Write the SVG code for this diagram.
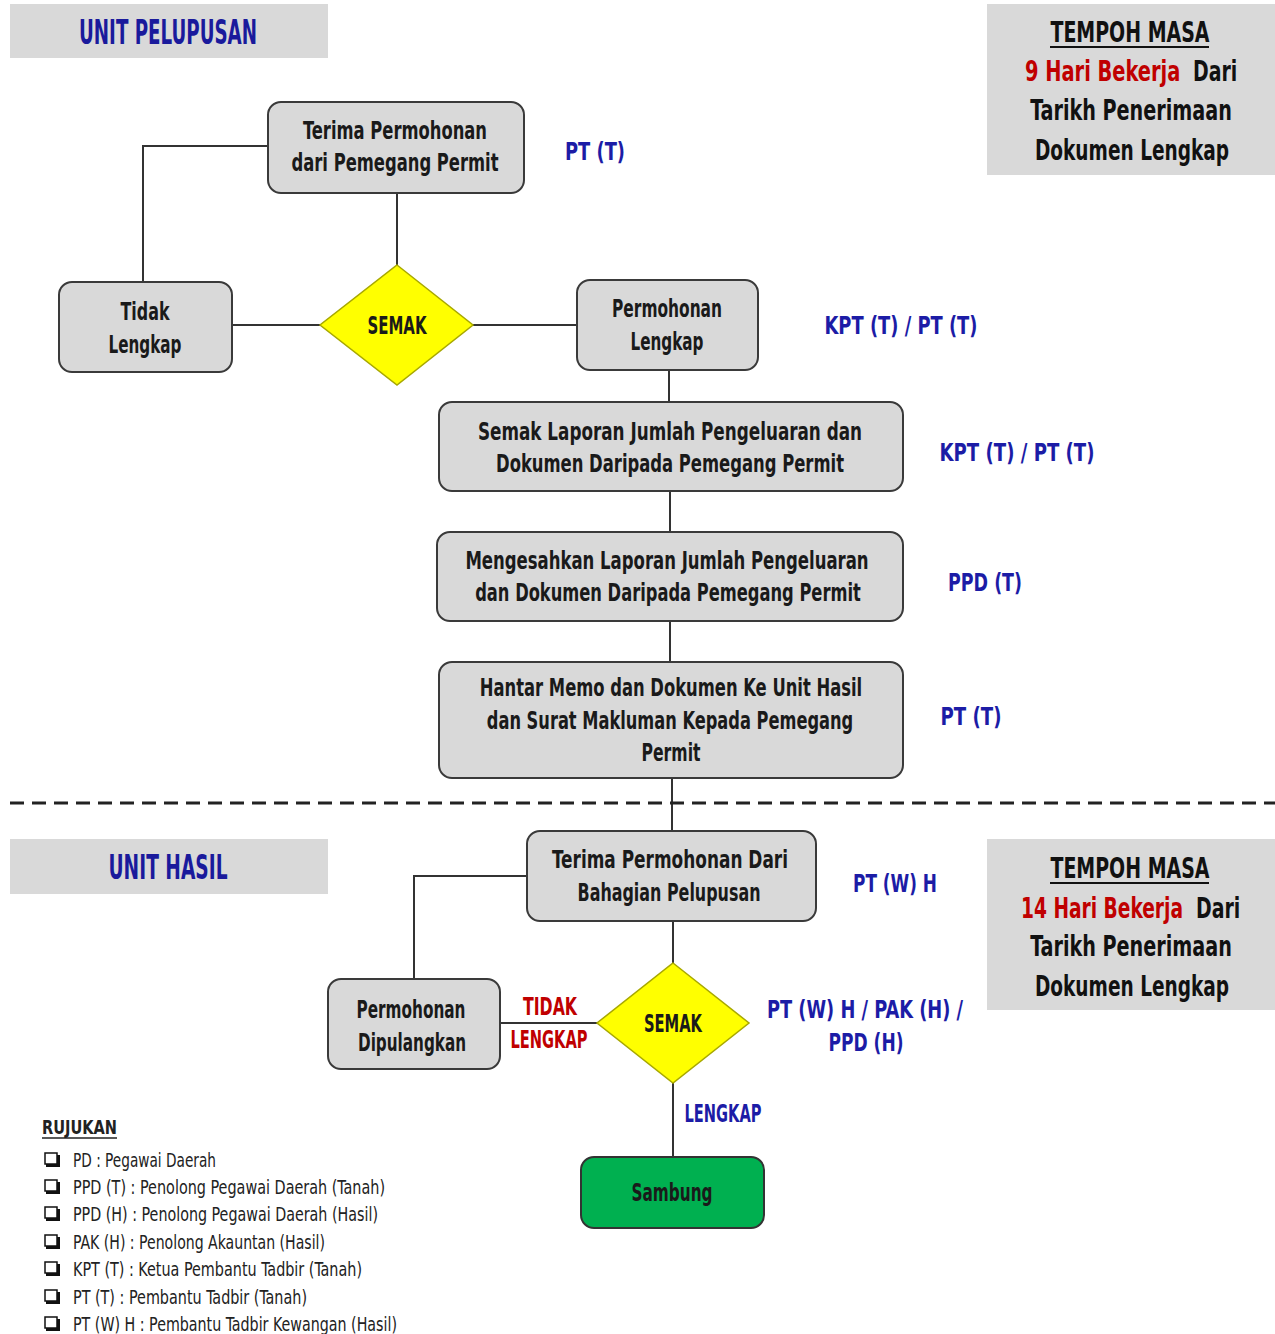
<svg xmlns="http://www.w3.org/2000/svg" width="1275" height="1334" viewBox="0 0 1275 1334">
<style>
  text { font-family: "Liberation Sans Narrow", "DejaVu Sans Condensed", "Liberation Sans", sans-serif; dominant-baseline: central; }
  .nt { font-size: 24px; font-weight: bold; fill: #1a1a1a; text-anchor: middle; }
  .bl { font-size: 24px; font-weight: bold; fill: #1c1ca6; text-anchor: middle; }
  .rd { font-size: 24px; font-weight: bold; fill: #c00000; text-anchor: middle; }
  .hd { font-size: 34px; font-weight: bold; fill: #1a1a9c; text-anchor: middle; }
  .tm { font-size: 28px; font-weight: bold; fill: #111; text-anchor: middle; }
  .ts { font-size: 28px; font-weight: bold; fill: #111; text-anchor: start; }
  .tr { fill: #c00000; }
  .lg { font-size: 19px; fill: #222; }
  .box { fill: #d9d9d9; stroke: #3a3a3a; stroke-width: 2; }
  .panel { fill: #d9d9d9; }
  .dia { fill: #ffff00; stroke: #a8a800; stroke-width: 1.5; }
  .conn { fill: none; stroke: #333; stroke-width: 2; }
  .ul { stroke: #111; stroke-width: 2; }
</style>

<g id="header-pelupusan">
  <rect class="panel" x="10" y="4" width="318" height="54"/>
  <text class="hd" x="168" y="32" textLength="178" lengthAdjust="spacingAndGlyphs">UNIT PELUPUSAN</text>
</g>
<g id="tempoh-1">
  <rect class="panel" x="987" y="4" width="288" height="171"/>
  <text class="tm" transform="translate(1130,32) scale(0.75,1)" textLength="212" lengthAdjust="spacingAndGlyphs">TEMPOH MASA</text>
  <line class="ul" x1="1050" y1="47" x2="1209" y2="47"/>
  <text class="ts tr" transform="translate(1025,71) scale(0.75,1)" textLength="207" lengthAdjust="spacingAndGlyphs">9 Hari Bekerja</text>
  <text class="ts" transform="translate(1193,71) scale(0.75,1)" textLength="59" lengthAdjust="spacingAndGlyphs">Dari</text>
  <text class="tm" transform="translate(1131,110) scale(0.75,1)" textLength="269" lengthAdjust="spacingAndGlyphs">Tarikh Penerimaan</text>
  <text class="tm" transform="translate(1132,150) scale(0.75,1)" textLength="259" lengthAdjust="spacingAndGlyphs">Dokumen Lengkap</text>
</g>

<g id="connectors">
  <path class="conn" d="M397,193 V265"/>
  <path class="conn" d="M268,146 H143 V282"/>
  <path class="conn" d="M232,325 H320"/>
  <path class="conn" d="M473,325 H577"/>
  <path class="conn" d="M669,370 V402"/>
  <path class="conn" d="M670,491 V532"/>
  <path class="conn" d="M670,621 V662"/>
  <path class="conn" d="M672,778 V831"/>
  <path class="conn" d="M673,921 V963"/>
  <path class="conn" d="M527,876 H414 V979"/>
  <path class="conn" d="M597,1023 H500"/>
  <path class="conn" d="M673,1083 V1157"/>
</g>

<g id="divider">
  <line x1="10" y1="803" x2="1275" y2="803" stroke="#222" stroke-width="3" stroke-dasharray="14 8"/>
</g>

<g id="terima-1">
  <rect class="box" x="268" y="102" width="256" height="91" rx="13"/>
  <text class="nt" x="395" y="131" textLength="184" lengthAdjust="spacingAndGlyphs">Terima Permohonan</text>
  <text class="nt" x="395" y="163" textLength="207" lengthAdjust="spacingAndGlyphs">dari Pemegang Permit</text>
</g>
<text class="bl" x="595" y="152" textLength="60" lengthAdjust="spacingAndGlyphs">PT (T)</text>

<g id="tidak-lengkap">
  <rect class="box" x="59" y="282" width="173" height="90" rx="13"/>
  <text class="nt" x="145" y="312" textLength="49" lengthAdjust="spacingAndGlyphs">Tidak</text>
  <text class="nt" x="145" y="345" textLength="73" lengthAdjust="spacingAndGlyphs">Lengkap</text>
</g>

<g id="semak-1">
  <polygon class="dia" points="397,265 473,325 397,385 320,325"/>
  <text class="nt" x="397" y="326" textLength="59" lengthAdjust="spacingAndGlyphs">SEMAK</text>
</g>

<g id="permohonan-lengkap">
  <rect class="box" x="577" y="280" width="181" height="90" rx="13"/>
  <text class="nt" x="667" y="309" textLength="110" lengthAdjust="spacingAndGlyphs">Permohonan</text>
  <text class="nt" x="667" y="342" textLength="73" lengthAdjust="spacingAndGlyphs">Lengkap</text>
</g>
<text class="bl" x="901" y="326" textLength="153" lengthAdjust="spacingAndGlyphs">KPT (T) / PT (T)</text>

<g id="semak-laporan">
  <rect class="box" x="439" y="402" width="464" height="89" rx="13"/>
  <text class="nt" transform="translate(670,432) scale(0.8,1)" textLength="480" lengthAdjust="spacingAndGlyphs">Semak Laporan Jumlah Pengeluaran dan</text>
  <text class="nt" transform="translate(670,464) scale(0.8,1)" textLength="435" lengthAdjust="spacingAndGlyphs">Dokumen Daripada Pemegang Permit</text>
</g>
<text class="bl" x="1017" y="453" textLength="155" lengthAdjust="spacingAndGlyphs">KPT (T) / PT (T)</text>

<g id="mengesahkan">
  <rect class="box" x="437" y="532" width="466" height="89" rx="13"/>
  <text class="nt" transform="translate(667,561) scale(0.8,1)" textLength="504" lengthAdjust="spacingAndGlyphs">Mengesahkan Laporan Jumlah Pengeluaran</text>
  <text class="nt" transform="translate(668,593) scale(0.8,1)" textLength="482" lengthAdjust="spacingAndGlyphs">dan Dokumen Daripada Pemegang Permit</text>
</g>
<text class="bl" x="985" y="583" textLength="74" lengthAdjust="spacingAndGlyphs">PPD (T)</text>

<g id="hantar-memo">
  <rect class="box" x="439" y="662" width="464" height="116" rx="13"/>
  <text class="nt" transform="translate(671,688) scale(0.8,1)" textLength="478" lengthAdjust="spacingAndGlyphs">Hantar Memo dan Dokumen Ke Unit Hasil</text>
  <text class="nt" transform="translate(670,721) scale(0.8,1)" textLength="458" lengthAdjust="spacingAndGlyphs">dan Surat Makluman Kepada Pemegang</text>
  <text class="nt" x="671" y="753" textLength="59" lengthAdjust="spacingAndGlyphs">Permit</text>
</g>
<text class="bl" x="971" y="717" textLength="61" lengthAdjust="spacingAndGlyphs">PT (T)</text>

<g id="header-hasil">
  <rect class="panel" x="10" y="839" width="318" height="55"/>
  <text class="hd" x="168" y="867" textLength="119" lengthAdjust="spacingAndGlyphs">UNIT HASIL</text>
</g>
<g id="tempoh-2">
  <rect class="panel" x="987" y="839" width="288" height="171"/>
  <text class="tm" transform="translate(1130,868) scale(0.75,1)" textLength="212" lengthAdjust="spacingAndGlyphs">TEMPOH MASA</text>
  <line class="ul" x1="1050" y1="883" x2="1209" y2="883"/>
  <text class="ts tr" transform="translate(1021,908) scale(0.75,1)" textLength="216" lengthAdjust="spacingAndGlyphs">14 Hari Bekerja</text>
  <text class="ts" transform="translate(1196,908) scale(0.75,1)" textLength="59" lengthAdjust="spacingAndGlyphs">Dari</text>
  <text class="tm" transform="translate(1131,946) scale(0.75,1)" textLength="269" lengthAdjust="spacingAndGlyphs">Tarikh Penerimaan</text>
  <text class="tm" transform="translate(1132,986) scale(0.75,1)" textLength="259" lengthAdjust="spacingAndGlyphs">Dokumen Lengkap</text>
</g>

<g id="terima-2">
  <rect class="box" x="527" y="831" width="289" height="90" rx="13"/>
  <text class="nt" x="670" y="860" textLength="236" lengthAdjust="spacingAndGlyphs">Terima Permohonan Dari</text>
  <text class="nt" x="669" y="893" textLength="183" lengthAdjust="spacingAndGlyphs">Bahagian Pelupusan</text>
</g>
<text class="bl" x="895" y="884" textLength="84" lengthAdjust="spacingAndGlyphs">PT (W) H</text>

<g id="dipulangkan">
  <rect class="box" x="328" y="979" width="172" height="90" rx="13"/>
  <text class="nt" x="411" y="1010" textLength="109" lengthAdjust="spacingAndGlyphs">Permohonan</text>
  <text class="nt" x="412" y="1043" textLength="108" lengthAdjust="spacingAndGlyphs">Dipulangkan</text>
</g>
<text class="rd" x="550" y="1007" textLength="54" lengthAdjust="spacingAndGlyphs">TIDAK</text>
<text class="rd" x="549" y="1040" textLength="77" lengthAdjust="spacingAndGlyphs">LENGKAP</text>

<g id="semak-2">
  <polygon class="dia" points="673,963 749,1023 673,1083 597,1023"/>
  <text class="nt" x="673" y="1024" textLength="58" lengthAdjust="spacingAndGlyphs">SEMAK</text>
</g>
<text class="bl" x="865" y="1010" textLength="196" lengthAdjust="spacingAndGlyphs">PT (W) H / PAK (H) /</text>
<text class="bl" x="866" y="1043" textLength="75" lengthAdjust="spacingAndGlyphs">PPD (H)</text>
<text class="bl" x="723" y="1114" textLength="77" lengthAdjust="spacingAndGlyphs">LENGKAP</text>

<g id="sambung">
  <rect x="581" y="1157" width="183" height="71" rx="13" fill="#00b050" stroke="#333" stroke-width="2"/>
  <text class="nt" x="672" y="1193" textLength="81" lengthAdjust="spacingAndGlyphs">Sambung</text>
</g>

<g id="legend">
  <text class="lg" x="42" y="1127" font-weight="bold" textLength="75" lengthAdjust="spacingAndGlyphs">RUJUKAN</text>
  <line x1="42" y1="1138" x2="117" y2="1138" stroke="#222" stroke-width="1.5"/>
  <g fill="#fff" stroke="#111" stroke-width="1.5">
    <rect x="45" y="1153" width="12" height="11"/>
    <rect x="45" y="1180" width="12" height="11"/>
    <rect x="45" y="1207" width="12" height="11"/>
    <rect x="45" y="1235" width="12" height="11"/>
    <rect x="45" y="1262" width="12" height="11"/>
    <rect x="45" y="1290" width="12" height="11"/>
    <rect x="45" y="1317" width="12" height="11"/>
  </g>
  <g fill="#111">
    <rect x="46" y="1164" width="14" height="3"/><rect x="57" y="1155" width="3" height="12"/>
    <rect x="46" y="1191" width="14" height="3"/><rect x="57" y="1182" width="3" height="12"/>
    <rect x="46" y="1218" width="14" height="3"/><rect x="57" y="1209" width="3" height="12"/>
    <rect x="46" y="1246" width="14" height="3"/><rect x="57" y="1237" width="3" height="12"/>
    <rect x="46" y="1273" width="14" height="3"/><rect x="57" y="1264" width="3" height="12"/>
    <rect x="46" y="1301" width="14" height="3"/><rect x="57" y="1292" width="3" height="12"/>
    <rect x="46" y="1328" width="14" height="3"/><rect x="57" y="1319" width="3" height="12"/>
  </g>
  <text class="lg" x="73" y="1160" textLength="143" lengthAdjust="spacingAndGlyphs">PD : Pegawai Daerah</text>
  <text class="lg" x="73" y="1187" textLength="312" lengthAdjust="spacingAndGlyphs">PPD (T) : Penolong Pegawai Daerah (Tanah)</text>
  <text class="lg" x="73" y="1214" textLength="305" lengthAdjust="spacingAndGlyphs">PPD (H) : Penolong Pegawai Daerah (Hasil)</text>
  <text class="lg" x="73" y="1242" textLength="252" lengthAdjust="spacingAndGlyphs">PAK (H) : Penolong Akauntan (Hasil)</text>
  <text class="lg" x="73" y="1269" textLength="289" lengthAdjust="spacingAndGlyphs">KPT (T) : Ketua Pembantu Tadbir (Tanah)</text>
  <text class="lg" x="73" y="1297" textLength="234" lengthAdjust="spacingAndGlyphs">PT (T) : Pembantu Tadbir (Tanah)</text>
  <text class="lg" x="73" y="1324" textLength="324" lengthAdjust="spacingAndGlyphs">PT (W) H : Pembantu Tadbir Kewangan (Hasil)</text>
</g>
</svg>
